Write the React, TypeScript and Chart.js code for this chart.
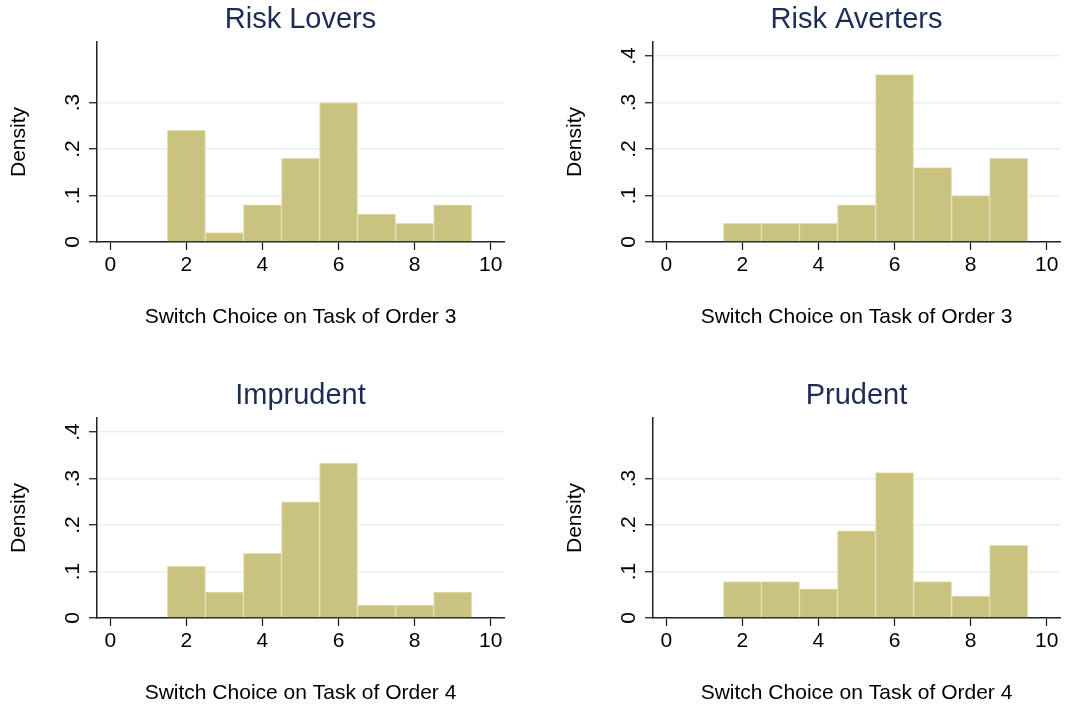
import React, { useEffect, useRef } from "react";
import { Chart, registerables } from "chart.js";

Chart.register(...registerables);

const bins = [2, 3, 4, 5, 6, 7, 8, 9];
const riskLovers = [0.24, 0.02, 0.08, 0.18, 0.3, 0.06, 0.04, 0.08];
const riskAverters = [0.04, 0.04, 0.04, 0.08, 0.36, 0.16, 0.1, 0.18];
const imprudent = [0.1111, 0.0556, 0.1389, 0.25, 0.3333, 0.0278, 0.0278, 0.0556];
const prudent = [0.0781, 0.0781, 0.0625, 0.1875, 0.3125, 0.0781, 0.0469, 0.1563];

const xTicks = [0, 2, 4, 6, 8, 10];
const yTicksShort = [0, 0.1, 0.2, 0.3];
const yTicksLong = [0, 0.1, 0.2, 0.3, 0.4];
const yTickLabel = (v: number) => (v === 0 ? "0" : "." + Math.round(v * 10));

const titles = ["Risk Lovers", "Risk Averters", "Imprudent", "Prudent"];
const xTitles = [
  "Switch Choice on Task of Order 3",
  "Switch Choice on Task of Order 3",
  "Switch Choice on Task of Order 4",
  "Switch Choice on Task of Order 4",
];
const yTitle = "Density";

const FONT = "'Liberation Sans', Arial, Helvetica, sans-serif";

type PanelProps = {
  title: string;
  xTitle: string;
  values: number[];
  yTicks: number[];
  left: number;
  top: number;
};

function Panel({ title, xTitle, values, yTicks, left, top }: PanelProps) {
  const ref = useRef<HTMLCanvasElement>(null);
  useEffect(() => {
    if (!ref.current) return;
    const chart = new Chart(ref.current, {
      type: "bar",
      data: {
        datasets: [
          {
            data: bins.map((b, i) => ({ x: b, y: values[i] })),
            backgroundColor: "#cac380",
            borderColor: "#e4dfb2",
            borderWidth: 1,
            barPercentage: 1,
            categoryPercentage: 1,
          },
        ],
      },
      options: {
        animation: false,
        responsive: false,
        maintainAspectRatio: false,
        layout: { padding: { left: 0, right: 21, top: 0, bottom: 0 }, autoPadding: false },
        plugins: {
          legend: { display: false },
          tooltip: { enabled: false },
          title: {
            display: true,
            text: title,
            fullSize: false,
            color: "#1c2d55",
            font: { family: FONT, size: 29, weight: "normal", lineHeight: 1.2 },
            padding: { top: 2.5, bottom: 4.7 },
          },
        },
        scales: {
          x: {
            type: "linear",
            min: -0.35,
            max: 10.35,
            offset: false,
            afterBuildTicks: (axis: any) => {
              axis.ticks = xTicks.map((v) => ({ value: v }));
            },
            afterFit: (axis: any) => {
              axis.height = 88;
            },
            grid: {
              offset: false,
              drawOnChartArea: false,
              drawTicks: true,
              tickLength: 8,
              tickColor: "#111",
              tickWidth: 1.2,
            },
            border: { display: true, color: "#222", width: 1.5 },
            ticks: {
              color: "#000",
              padding: 3,
              maxRotation: 0,
              autoSkip: false,
              font: { family: FONT, size: 21 },
              callback: (v: any) => String(v),
            },
            title: {
              display: true,
              text: xTitle,
              color: "#000",
              font: { family: FONT, size: 21, lineHeight: 1.2 },
              padding: { top: 0, bottom: 0.5 },
            },
          },
          y: {
            type: "linear",
            min: 0,
            max: 0.43,
            afterBuildTicks: (axis: any) => {
              axis.ticks = yTicks.map((v) => ({ value: v }));
            },
            afterFit: (axis: any) => {
              axis.width = 97;
            },
            grid: {
              drawOnChartArea: true,
              color: "#e6eff1",
              lineWidth: 1.5,
              drawTicks: true,
              tickLength: 8,
              tickColor: "#111",
              tickWidth: 1.2,
            },
            border: { display: true, color: "#222", width: 1.5 },
            ticks: {
              color: "#000",
              padding: 7,
              minRotation: 90,
              maxRotation: 90,
              crossAlign: "center",
              autoSkip: false,
              font: { family: FONT, size: 21 },
              callback: (v: any) => yTickLabel(Number(v)),
            },
            title: {
              display: true,
              text: yTitle,
              color: "#000",
              font: { family: FONT, size: 21, lineHeight: 1.2 },
              padding: { top: 7, bottom: 0 },
            },
          },
        },
      } as any,
    });
    return () => chart.destroy();
  }, [title, xTitle, values, yTicks]);
  return (
    <canvas
      ref={ref}
      width={525}
      height={330}
      style={{ position: "absolute", left, top, width: 525, height: 330 }}
    />
  );
}

export default function App() {
  return (
    <div
      style={{
        position: "absolute",
        left: 0,
        top: 0,
        width: 1081,
        height: 706,
        background: "#fff",
        overflow: "hidden",
      }}
    >
      <Panel title={titles[0]} xTitle={xTitles[0]} values={riskLovers} yTicks={yTicksShort} left={0} top={0} />
      <Panel title={titles[1]} xTitle={xTitles[1]} values={riskAverters} yTicks={yTicksLong} left={556} top={0} />
      <Panel title={titles[2]} xTitle={xTitles[2]} values={imprudent} yTicks={yTicksLong} left={0} top={376} />
      <Panel title={titles[3]} xTitle={xTitles[3]} values={prudent} yTicks={yTicksShort} left={556} top={376} />
    </div>
  );
}
